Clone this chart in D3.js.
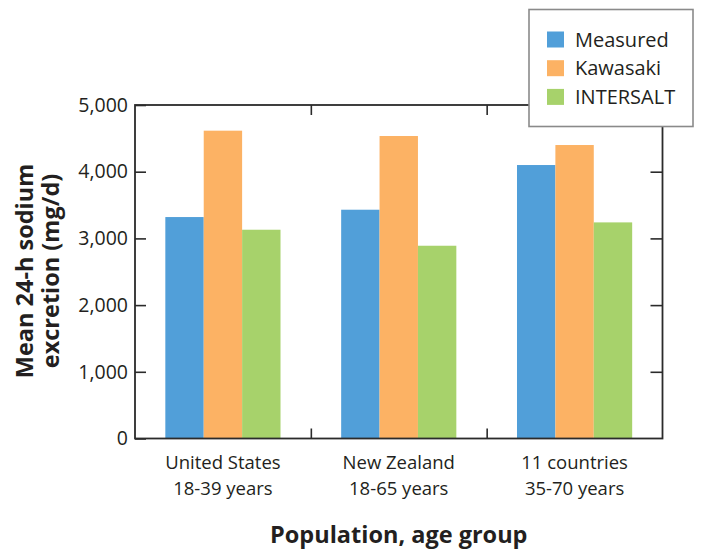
<!DOCTYPE html>
<html><head><meta charset="utf-8">
<script src="https://cdn.jsdelivr.net/npm/d3@7"></script>
<style>body{margin:0;background:#fff} svg text{font-family:"Open Sans",sans-serif;fill:#231f20}</style>
</head><body><svg id="c" width="704" height="557"></svg>
<script>
const categoryLine1 = ["United States", "New Zealand", "11 countries"];
const categoryLine2 = ["18-39 years", "18-65 years", "35-70 years"];
const series = ["Measured", "Kawasaki", "INTERSALT"];
const measured = [3320, 3430, 4100];
const kawasaki = [4615, 4535, 4400];
const intersalt = [3130, 2890, 3240];
const yTicks = [0, 1000, 2000, 3000, 4000, 5000];
const colors = ["#519fd9", "#fcb264", "#a7d26b"];
const yTitle = ["Mean 24-h sodium", "excretion (mg/d)"];
const xTitle = "Population, age group";

const values = [measured, kawasaki, intersalt];
const svg = d3.select("#c");
const L = 135, R = 662.5, T = 105, B = 438.5;
const axisColor = "#2b2b2b";

const x0 = d3.scaleBand().domain(d3.range(categoryLine1.length)).range([L, R]).padding(0);
const x1 = d3.scaleBand().domain(series).range([0, x0.bandwidth()]).paddingInner(0).paddingOuter(0.79);
const xb = d3.scaleLinear().domain([0, categoryLine1.length]).range([L, R]);
const y = d3.scaleLinear().domain([0, 5000]).range([B, T]);
const color = d3.scaleOrdinal().domain(series).range(colors);

// bars
const groups = svg.append("g").selectAll("g").data(categoryLine1).join("g")
  .attr("transform", (d, i) => `translate(${x0(i)},0)`);
groups.selectAll("rect").data((d, i) => series.map((s, k) => ({s, v: values[k][i]}))).join("rect")
  .attr("x", d => x1(d.s)).attr("width", x1.bandwidth())
  .attr("y", d => y(d.v)).attr("height", d => y(0) - y(d.v))
  .attr("fill", d => color(d.s));

function styleAxis(g) {
  g.select(".domain").remove();
  g.selectAll("line").attr("stroke", axisColor).attr("stroke-width", 1.6);
}

// left axis
svg.append("g").attr("transform", `translate(${L},0)`)
  .call(d3.axisLeft(y).tickValues(yTicks).tickFormat(d3.format(",")).tickSize(-11).tickPadding(7))
  .call(styleAxis)
  .call(g => g.selectAll("text").attr("font-size", 19.5).attr("fill", "#231f20").attr("font-family", "'Open Sans',sans-serif"));
// right axis ticks
svg.append("g").attr("transform", `translate(${R},0)`)
  .call(d3.axisRight(y).tickValues(yTicks.slice(1, -1)).tickFormat("").tickSize(-12))
  .call(styleAxis);
// top and bottom ticks at category boundaries
const bounds = d3.range(1, categoryLine1.length);
svg.append("g").attr("transform", `translate(0,${T})`)
  .call(d3.axisTop(xb).tickValues(bounds).tickFormat("").tickSize(-10)).call(styleAxis);
svg.append("g").attr("transform", `translate(0,${B})`)
  .call(d3.axisBottom(xb).tickValues(bounds).tickFormat("").tickSize(-10)).call(styleAxis);

// frame
svg.append("rect").attr("x", L).attr("y", T).attr("width", R - L).attr("height", B - T)
  .attr("fill", "none").attr("stroke", axisColor).attr("stroke-width", 1.8);

// category labels (two separate lines)
const cx = i => x0(i) + x0.bandwidth() / 2;
svg.append("g").selectAll("text").data(categoryLine1).join("text")
  .attr("x", (d, i) => cx(i)).attr("y", 468.5).attr("text-anchor", "middle")
  .attr("font-size", 18.5).text(d => d);
svg.append("g").selectAll("text").data(categoryLine2).join("text")
  .attr("x", (d, i) => cx(i)).attr("y", 494.5).attr("text-anchor", "middle")
  .attr("font-size", 18.5).text(d => d);

// x title
svg.append("text").attr("x", (L + R) / 2).attr("y", 543).attr("text-anchor", "middle")
  .attr("font-size", 23.5).attr("font-weight", 700).text(xTitle);

// y title
const yt = svg.append("text").attr("transform", "translate(0,271) rotate(-90)")
  .attr("text-anchor", "middle").attr("font-size", 23.5).attr("font-weight", 700);
yTitle.forEach((t, i) => yt.append("tspan").attr("x", 0).attr("y", 33 + i * 25.5).text(t));

// legend
const lg = svg.append("g");
lg.append("rect").attr("x", 529).attr("y", 9.5).attr("width", 164).attr("height", 117)
  .attr("fill", "#fff").attr("stroke", "#8a8a8a").attr("stroke-width", 1.6);
const li = lg.selectAll("g.it").data(series).join("g").attr("class", "it")
  .attr("transform", (d, i) => `translate(547,${39.5 + i * 28.7})`);
li.append("rect").attr("x", 0).attr("y", -8).attr("width", 17).attr("height", 16).attr("fill", d => color(d));
li.append("text").attr("x", 28).attr("y", 7).attr("font-size", 20).text(d => d);
</script></body></html>
